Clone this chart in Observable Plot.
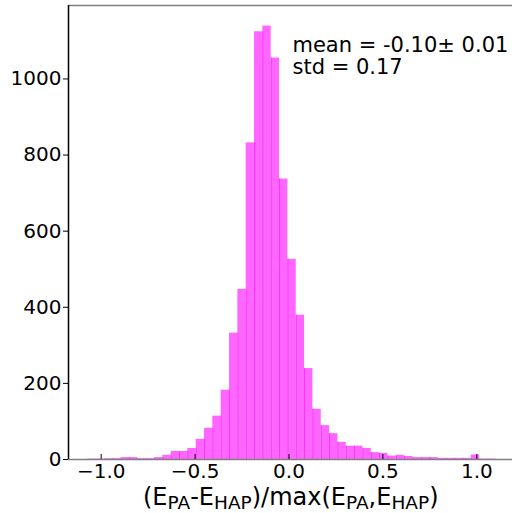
<!DOCTYPE html>
<html><head><meta charset="utf-8">
<script src="https://cdn.jsdelivr.net/npm/d3@7"></script>
<script src="https://cdn.jsdelivr.net/npm/@observablehq/plot@0.6"></script>
<style>body{margin:0;background:#fff} svg{display:block}</style>
</head><body><div id="chart"></div>
<script>
// histogram counts, 50 bins
const counts = [0,1,1,2,2,5,5,2,2,5,
  11,21,21,29,53,82,114,182,332,447,
  832,1124,1139,1055,737,526,379,239,132,89,
  68,45,35,35,29,18,16,9,11,8,
  5,5,5,3,3,3,3,12,1,1];
const binStart = -1.116;
const binWidth = 0.0444;
const xTicks = [-1.0, -0.5, 0, 0.5, 1.0];
const yTicks = [0, 200, 400, 600, 800, 1000];
const statsLines = ["mean = -0.10\u00b1 0.01", "std = 0.17"];
const labelParts = [["(E",0],["PA",1],["-E",0],["HAP",1],[")/max(E",0],["PA",1],[",E",0],["HAP",1],[")",0]];
const xDomain = [-1.174, 1.190];
const yDomain = [0, 1193];

const bins = counts.map((c, i) => ({x1: binStart + i * binWidth, x2: binStart + (i + 1) * binWidth, count: c}));
const seps = bins.slice(1).map((b, i) => ({x: b.x1, h: Math.min(b.count, bins[i].count)})).filter(d => d.h > 0);

function xLabel(index, scales, values, dims) {
  const cx = (dims.marginLeft + dims.width) / 2 + 0.75;
  const t = d3.create("svg:text")
    .attr("x", cx).attr("y", 505)
    .attr("text-anchor", "middle")
    .attr("font-family", "DejaVu Sans")
    .attr("font-size", 24)
    .attr("fill", "black");
  let shifted = false;
  for (const [s, sub] of labelParts) {
    const sp = t.append("tspan").text(s);
    if (sub) { sp.attr("font-size", 18.5).attr("dy", shifted ? 0 : 4); shifted = true; }
    else { if (shifted) sp.attr("dy", -4); shifted = false; }
  }
  return t.node();
}

const chart = Plot.plot({
  width: 512, height: 513,
  marginLeft: 68, marginTop: 5, marginBottom: 54, marginRight: 0,
  style: {fontFamily: "DejaVu Sans", fontSize: "20px", color: "black", background: "white"},
  x: {domain: xDomain},
  y: {domain: yDomain},
  marks: [
    Plot.rect(bins, {x1: "x1", x2: "x2", y1: d => 0, y2: "count", fill: "#ff66ff"}),
    Plot.ruleX(seps, {x: "x", y1: d => 0, y2: "h", stroke: "#ff33ff", strokeWidth: 1}),
    Plot.ruleY([0], {stroke: "#808080", strokeWidth: 1.5}),
    Plot.ruleY([yDomain[1]], {stroke: "#808080", strokeWidth: 1.5}),
    Plot.ruleX([xDomain[0]], {stroke: "black", strokeWidth: 1.5}),
    Plot.axisY({ticks: yTicks, tickSize: 5, tickPadding: 2, fontSize: 20, label: null, tickFormat: d3.format("d")}),
    Plot.axisX({ticks: xTicks, tickSize: 0, tickPadding: 4, fontSize: 20, label: null, tickFormat: d3.format(".1f")}),
    Plot.axisX({ticks: xTicks, tickSize: -5, tickFormat: () => "", label: null}),
    Plot.text([statsLines.join("\n")], {x: 0.0186, y: 1110, textAnchor: "start", lineAnchor: "top", fontSize: 21, lineHeight: 1.03, fill: "black"}),
    xLabel
  ]
});
document.getElementById("chart").append(chart);
</script>
</body></html>
